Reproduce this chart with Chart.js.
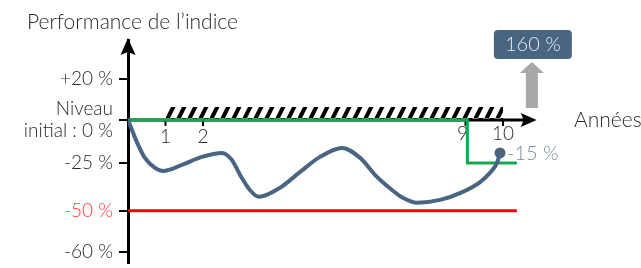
<!DOCTYPE html>
<html><head><meta charset="utf-8">
<script src="https://cdn.jsdelivr.net/npm/chart.js@4.4.0/dist/chart.umd.min.js"></script>
<style>html,body{margin:0;padding:0;background:#fff;overflow:hidden}#wrap{width:641px;height:268px;position:relative}</style>
</head><body><div id="wrap"><canvas id="c"></canvas></div>
<script>
// ---- data ----
const years = [0, 0.27, 0.45, 0.72, 0.93, 1.44, 1.97, 2.51, 2.77, 2.99, 3.25, 3.49, 4.05, 4.59, 5.12, 5.71, 6.19, 6.64, 7.04, 7.33, 7.71, 8.32, 8.93, 9.39, 9.65, 9.84, 9.92];
const performance = [0, -14.5, -22.1, -27.6, -29.2, -26.0, -21.5, -19.2, -23.3, -31.3, -39.1, -42.7, -38.0, -29.7, -21.5, -16.3, -22.1, -32.3, -39.1, -43.2, -45.8, -44.3, -40.1, -35.0, -30.2, -25.0, -19.2];
const couponYears = [0, 9.05, 9.05, 10.37];
const couponLevels = [0, 0, -25, -25];
const barrierYears = [0, 10.37];
const barrierLevels = [-50, -50];
const hatchYears = [1, 10];
const hatchLevels = [6.3, 6.3];
const xTickYears = [1, 2, 9, 10];
const yTickValues = [20, 0, -25, -50, -60];
const yTickLabels = ['+20 %', ['Niveau', 'initial : 0 %'], '-25 %', '-50 %', '-60 %'];
const finalLabel = '-15 %';
const bonusLabel = '160 %';
const titleText = 'Performance de l\u2019indice';
const xAxisTitle = 'Ann\u00e9es';
const xAxisEnd = 10.9;
const bonusYear = 10.77;

// schematic (piecewise) vertical scale as drawn in the picture
const realStops = [20, 0, -25, -50, -60];
const axisStops = [41, 0, -43, -91, -132];
function interp(v, a, b) {
  let i = 0;
  if (v >= a[0]) i = 0;
  else if (v <= a[a.length - 1]) i = a.length - 2;
  else { while (!(v <= a[i] && v >= a[i + 1])) i++; }
  const t = (v - a[i]) / (a[i + 1] - a[i]);
  return b[i] + t * (b[i + 1] - b[i]);
}
const warp = v => interp(v, realStops, axisStops);
const unwarp = w => interp(w, axisStops, realStops);

class SchematicScale extends Chart.LinearScale {
  configure() {
    super.configure();
    this._startValue = warp(this.min);
    this._endValue = warp(this.max);
    this._valueRange = this._endValue - this._startValue;
  }
  getPixelForValue(v) {
    if (v === null || v === undefined) return NaN;
    return this.getPixelForDecimal((warp(v) - this._startValue) / this._valueRange);
  }
  getValueForPixel(p) {
    return unwarp(this._startValue + this.getDecimalForPixel(p) * this._valueRange);
  }
}
SchematicScale.id = 'schematic';
SchematicScale.defaults = Chart.LinearScale.defaults;
Chart.register(SchematicScale);

const FONT = 'Lato';
const TEXT = '#2a2a2a';
const CURVE = '#4a6582';
Chart.defaults.font.family = FONT;
Chart.defaults.font.weight = '300';

// hatch pattern
const tile = document.createElement('canvas');
tile.width = 11; tile.height = 11;
(function () {
  const t = tile.getContext('2d');
  t.fillStyle = '#000';
  t.beginPath();
  t.moveTo(0.5, 11); t.lineTo(5, 11); t.lineTo(10.5, 0); t.lineTo(6, 0); t.closePath(); t.fill();
})();
let hatchPattern = null;

const pts = (xs, ys) => xs.map((x, i) => ({ x, y: ys[i] }));

const decor = {
  id: 'decor',
  beforeDatasetsDraw(chart) {
    const { ctx, scales: { x, y } } = chart;
    const y0 = y.getPixelForValue(0);
    const x0 = x.getPixelForValue(0);
    const xe = x.getPixelForValue(xAxisEnd);
    ctx.save();
    ctx.strokeStyle = '#000'; ctx.fillStyle = '#000';
    ctx.lineWidth = 3;
    ctx.beginPath(); ctx.moveTo(x0, y0); ctx.lineTo(xe - 10, y0); ctx.stroke();
    ctx.beginPath(); ctx.moveTo(xe, y0); ctx.lineTo(xe - 16, y0 - 7); ctx.lineTo(xe - 13, y0); ctx.lineTo(xe - 16, y0 + 7); ctx.closePath(); ctx.fill();
    ctx.lineWidth = 2;
    ctx.font = '300 19px ' + FONT;
    ctx.fillStyle = TEXT; ctx.textAlign = 'center'; ctx.textBaseline = 'middle';
    xTickYears.forEach(t => {
      const px = x.getPixelForValue(t);
      ctx.beginPath(); ctx.moveTo(px, y0); ctx.lineTo(px, y0 + 6); ctx.strokeStyle = '#000'; ctx.stroke();
      ctx.fillText(String(t), t === 9 ? px - 3 : px, y0 + (t > 5 ? 14 : 17));
    });
    ctx.restore();
  },
  afterDraw(chart) {
    const { ctx, chartArea, scales: { x, y } } = chart;
    const y0 = y.getPixelForValue(0);
    const xa = chartArea.left;
    ctx.save();
    // y axis arrow
    ctx.fillStyle = '#000';
    ctx.beginPath(); ctx.moveTo(xa, chartArea.top - 2); ctx.lineTo(xa - 7.5, chartArea.top + 15); ctx.lineTo(xa, chartArea.top + 12); ctx.lineTo(xa + 7.5, chartArea.top + 15); ctx.closePath(); ctx.fill();
    // title
    ctx.fillStyle = TEXT; ctx.font = '300 21px ' + FONT; ctx.textAlign = 'left'; ctx.textBaseline = 'middle';
    ctx.fillText(titleText, 27, 22);
    ctx.fillText(xAxisTitle, 574, y0);
    // final value label
    const last = chart.getDatasetMeta(0).data[performance.length - 1];
    ctx.fillStyle = '#7a8da5';
    ctx.font = '300 20px ' + FONT;
    ctx.fillText(finalLabel, last.x + 7, last.y + 1);
    // bonus arrow + box
    const bx = x.getPixelForValue(bonusYear);
    ctx.fillStyle = '#a8a8a8';
    ctx.beginPath();
    ctx.moveTo(bx, 62); ctx.lineTo(bx + 12, 73); ctx.lineTo(bx + 6, 73); ctx.lineTo(bx + 6, 108);
    ctx.lineTo(bx - 6, 108); ctx.lineTo(bx - 6, 73); ctx.lineTo(bx - 12, 73); ctx.closePath(); ctx.fill();
    ctx.fillStyle = CURVE;
    ctx.beginPath(); ctx.roundRect(bx - 38, 30, 78, 29, 4); ctx.fill();
    ctx.fillStyle = '#e6ebf0'; ctx.textAlign = 'center';
    ctx.fillText(bonusLabel, bx + 1, 45);
    ctx.restore();
  }
};

new Chart(document.getElementById('c'), {
  type: 'line',
  data: {
    datasets: [
      {
        data: pts(years, performance),
        borderColor: CURVE, borderWidth: 4, cubicInterpolationMode: 'monotone',
        pointRadius: performance.map((_, i) => i === performance.length - 1 ? 5.5 : 0),
        pointBackgroundColor: CURVE, pointBorderWidth: 0, fill: false, borderCapStyle: 'round', borderJoinStyle: 'round'
      },
      {
        data: pts(couponYears, couponLevels),
        borderColor: '#17a84f', borderWidth: 3, pointRadius: 0, tension: 0, fill: false
      },
      {
        data: pts(barrierYears, barrierLevels),
        borderColor: '#ff0000', borderWidth: 3, pointRadius: 0, tension: 0, fill: false
      },
      {
        data: pts(hatchYears, hatchLevels),
        borderWidth: 0, borderColor: 'rgba(0,0,0,0)', pointRadius: 0, tension: 0,
        fill: { value: 0 },
        backgroundColor: (c) => {
          const ch = c.chart;
          if (!ch.chartArea || !ch.scales.y) return 'rgba(0,0,0,0)';
          if (!hatchPattern) hatchPattern = ch.ctx.createPattern(tile, 'repeat');
          const top = ch.scales.y.getPixelForValue(hatchLevels[0]);
          hatchPattern.setTransform(new DOMMatrix([1, 0, 0, 1, 0, Math.round(top)]));
          return hatchPattern;
        }
      }
    ]
  },
  options: {
    responsive: true, maintainAspectRatio: false, animation: false, devicePixelRatio: 1,
    layout: { padding: { left: 0, top: 40, right: 100.5, bottom: 0 } },
    plugins: { legend: { display: false }, tooltip: { enabled: false }, title: { display: false } },
    scales: {
      x: { type: 'linear', min: 0, max: 11, display: false },
      y: {
        type: 'schematic', min: -62.6, max: 39,
        afterBuildTicks: s => { s.ticks = yTickValues.map(v => ({ value: v })); },
        afterFit: s => { s.width = 128; s.paddingTop = 0; s.paddingBottom = 0; },
        border: { display: true, color: '#000', width: 3 },
        grid: { drawOnChartArea: false, drawTicks: true, tickLength: 9, color: '#000', lineWidth: 2 },
        ticks: {
          padding: 6,
          font: { size: 19, weight: '300', family: FONT },
          color: c => c.tick && c.tick.value === -50 ? '#ff3b3b' : TEXT,
          callback: v => yTickLabels[yTickValues.indexOf(v)]
        }
      }
    }
  },
  plugins: [decor]
});
</script>
</body></html>
